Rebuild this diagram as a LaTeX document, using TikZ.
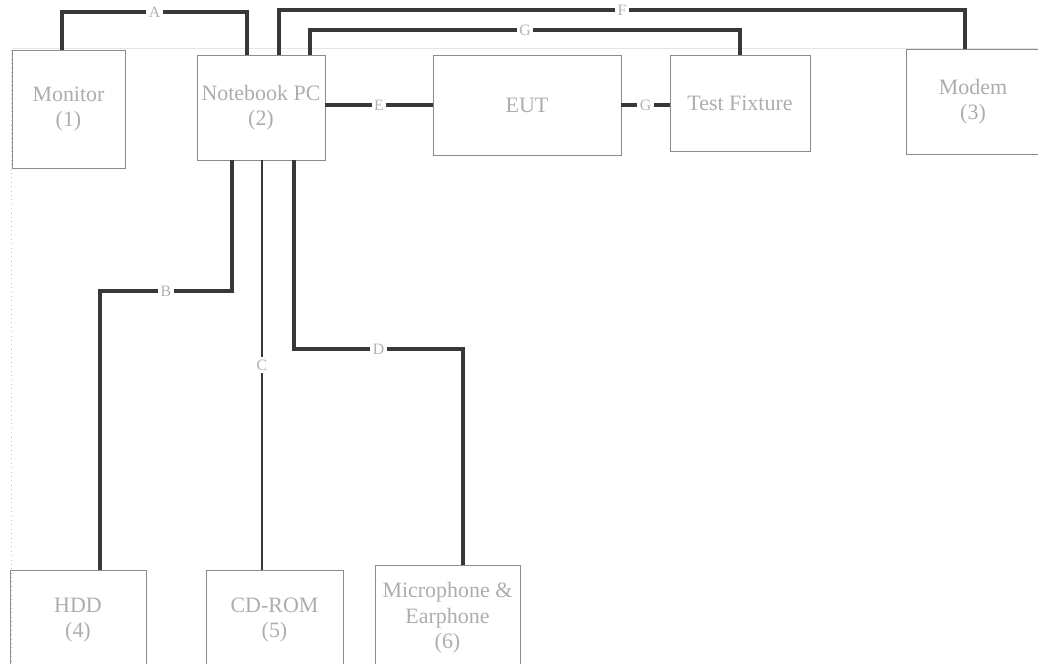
\documentclass[tikz,border=0pt]{standalone}
\usepackage{fontspec}
\setmainfont{Liberation Serif}
\usepackage{xcolor}
\usepackage{tikz}

\begin{document}
\begin{tikzpicture}[x=0.02cm,y=-0.02cm,
	box/.style={draw=black!45, line width=0.5pt, text=black!32, align=center,
		font=\fontsize{12.5}{14.5}\selectfont, inner sep=0pt},
	cable/.style={color=black!78, line width=2pt},
	lbl/.style={fill=white, text=black!30, font=\fontsize{9}{10}\selectfont, inner sep=1.5pt}]
\useasboundingbox (0,0) rectangle (1038,663);
\draw[color=black!10, line width=0.4pt] (12,48)--(1038,48);
\draw[color=black!25, dotted, line width=0.5pt] (11,50)--(11,663);

\node[box, minimum width=2.26cm, minimum height=2.36cm] (mon) at (68.5,109) {Monitor\\(1)};
\node[box, minimum width=2.56cm, minimum height=2.1cm] (pc) at (261,107.5) {Notebook PC\\(2)};
\node[box, minimum width=3.76cm, minimum height=2.0cm] (eut) at (527,105) {EUT};
\node[box, minimum width=2.8cm, minimum height=1.92cm] (fix) at (740,103) {Test Fixture};
\node[box, minimum width=2.68cm, minimum height=2.1cm] (modem) at (973,101.5) {Modem\\(3)};
\node[box, minimum width=2.72cm, minimum height=2.0cm] (hdd) at (78,620) {HDD\\(4)};
\node[box, minimum width=2.74cm, minimum height=2.0cm] (cdrom) at (274.5,620) {CD-ROM\\(5)};
\node[box, minimum width=2.9cm, minimum height=2.12cm] (mic) at (447.5,618) {Microphone \&\\Earphone\\(6)};

\draw[cable] (mon.north -| 62,0) -- (62,12) -| node[lbl,pos=0.25] {A} (pc.north -| 247,0);
\draw[cable] (pc.north -| 279,0) -- (279,10) -| node[lbl,pos=0.25] {F} (modem.north -| 965,0);
\draw[cable] (pc.north -| 310,0) -- (310,30) -| node[lbl,pos=0.25] {G} (fix.north);
\draw[cable] (pc.east |- eut.west) -- node[lbl] {E} (eut.west);
\draw[cable] (eut.east) -- node[lbl] {G} (eut.east -| fix.west);
\draw[cable] (pc.south -| 232,0) -- (232,291) -| node[lbl,pos=0.25] {B} (hdd.north -| 100,0);
\draw[cable, line width=1.4pt] (pc.south -| 262,0) -- node[lbl] {C} (cdrom.north -| 262,0);
\draw[cable] (pc.south -| 294,0) -- (294,349) -| node[lbl,pos=0.25] {D} (mic.north -| 463,0);
\end{tikzpicture}
\end{document}
